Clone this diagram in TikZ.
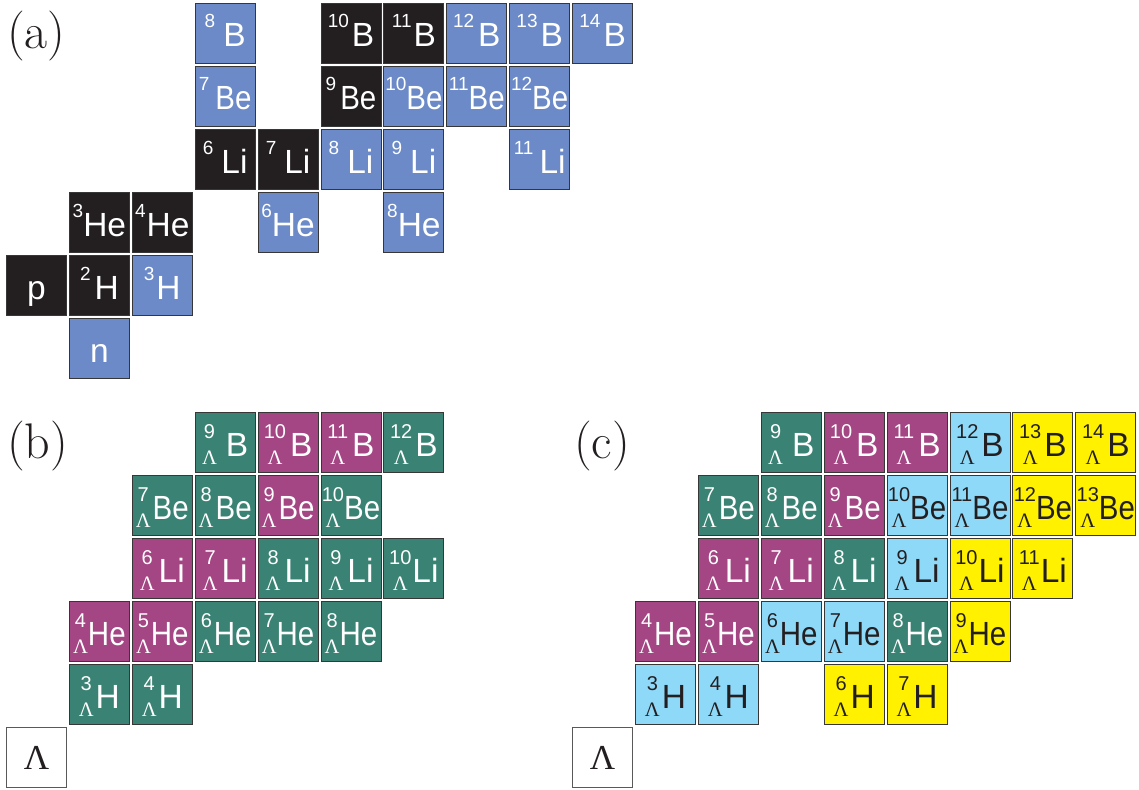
\documentclass[tikz,border=0pt]{standalone}
\usepackage{fontspec}
\usepackage{graphicx}
\newfontfamily\arial{Liberation Sans}
\newfontfamily\tms{Liberation Serif}
\definecolor{cblack}{RGB}{35,31,32}
\definecolor{cblue}{RGB}{107,138,199}
\definecolor{cgreen}{RGB}{58,131,116}
\definecolor{cmag}{RGB}{164,69,132}
\definecolor{clb}{RGB}{142,216,248}
\definecolor{cyel}{RGB}{255,241,0}
\definecolor{bord}{RGB}{55,55,55}
\newcommand\symf{\fontsize{33.5}{33.5}\selectfont}
\newcommand\supa{\fontsize{19}{19}\selectfont}
\newcommand\supb{\fontsize{20}{20}\selectfont}
\newcommand\lamf{\fontsize{20.5}{20.5}\selectfont}
\newcommand\nx[1]{\scalebox{0.88}[1]{#1}}
\newcommand\iso[3]{\raisebox{19pt}{\supa #1}\kern#3pt{\symf #2}}
\newlength\pwa \newlength\pwb
\newcommand\hyp[3]{%
  \settowidth\pwa{\supb #1}\settowidth\pwb{\lamf\tms Λ}%
  \ifdim\pwa<\pwb \setlength\pwa{\pwb}\fi
  \makebox[\pwa][c]{\raisebox{18pt}{\supb #1}}\kern-\pwa
  \makebox[\pwa][c]{\raisebox{-8pt}{\lamf\tms Λ}}\kern#3pt{\symf #2}}
% name, col, Z, style, text
\newcommand\PA[5]{\node[#4] (a#1) at ({36.5+62.9*#2},{33.5+63*(5-#3)}) {#5};}
\newcommand\PB[5]{\node[#4] (b#1) at ({36.5+62.9*#2},{442.5+63*(5-#3)}) {#5};}
\newcommand\PC[5]{\node[#4] (c#1) at ({36.5+62.9*(#2+9)},{442.5+63*(5-#3)}) {#5};}
\begin{document}
\begin{tikzpicture}[x=1pt,y=-1pt,
  base/.style={draw=bord, line width=0.9pt, minimum width=60pt, minimum height=60pt,
    inner sep=0pt, text height=43.5pt, text depth=16.5pt, font=\arial},
  blk/.style={base, fill=cblack, text=white},
  blu/.style={base, fill=cblue, text=white},
  grn/.style={base, fill=cgreen, text=white},
  mag/.style={base, fill=cmag, text=white},
  lbl/.style={base, fill=clb, text=cblack},
  yel/.style={base, fill=cyel, text=cblack},
  lbox/.style={draw=gray!70!black, line width=1pt, fill=white, minimum width=60pt,
    minimum height=60pt, inner sep=0pt, text=cblack, font=\tms\fontsize{35}{35}\selectfont},
  plab/.style={anchor=base west, inner sep=0pt, text=cblack, font=\fontsize{50}{50}\selectfont}]
\useasboundingbox (0,0) rectangle (1139,789);
% panel labels
\node[plab] (la) at (7,49) {(a)};
\node[plab] (lb) at (7,458) {(b)};
\node[plab] (lc) at (574,458) {(c)};
% ---------- (a)
\PA{p}{0}{1}{blk}{\symf p}
\PA{n}{1}{0}{blu}{\symf n}
\PA{2H}{1}{1}{blk}{\iso{2}{H}{4}}
\PA{3H}{2}{1}{blu}{\iso{3}{H}{2}}
\PA{3He}{1}{2}{blk}{\iso{3}{He}{0}}
\PA{4He}{2}{2}{blk}{\iso{4}{He}{1}}
\PA{6He}{4}{2}{blu}{\iso{6}{He}{0}}
\PA{8He}{6}{2}{blu}{\iso{8}{He}{0}}
\PA{6Li}{3}{3}{blk}{\iso{6}{Li}{8}}
\PA{7Li}{4}{3}{blk}{\iso{7}{Li}{8}}
\PA{8Li}{5}{3}{blu}{\iso{8}{Li}{8}}
\PA{9Li}{6}{3}{blu}{\iso{9}{Li}{8}}
\PA{11Li}{8}{3}{blu}{\iso{11}{Li}{6}}
\PA{7Be}{3}{4}{blu}{\iso{7}{\nx{Be}}{6}}
\PA{9Be}{5}{4}{blk}{\iso{9}{\nx{Be}}{4}}
\PA{10Be}{6}{4}{blu}{\iso{10}{\nx{Be}}{0}}
\PA{11Be}{7}{4}{blu}{\iso{11}{\nx{Be}}{0}}
\PA{12Be}{8}{4}{blu}{\iso{12}{\nx{Be}}{0}}
\PA{8B}{3}{5}{blu}{\iso{8}{B}{8}}
\PA{10B}{5}{5}{blk}{\iso{10}{B}{3}}
\PA{11B}{6}{5}{blk}{\iso{11}{B}{2}}
\PA{12B}{7}{5}{blu}{\iso{12}{B}{4}}
\PA{13B}{8}{5}{blu}{\iso{13}{B}{3}}
\PA{14B}{9}{5}{blu}{\iso{14}{B}{3}}
% ---------- (b)
\PB{L}{0}{0}{lbox}{Λ}
\PB{3H}{1}{1}{grn}{\hyp{3}{H}{2}}
\PB{4H}{2}{1}{grn}{\hyp{4}{H}{2}}
\PB{4He}{1}{2}{mag}{\hyp{4}{\nx{He}}{0}}
\PB{5He}{2}{2}{mag}{\hyp{5}{\nx{He}}{0}}
\PB{6He}{3}{2}{grn}{\hyp{6}{\nx{He}}{0}}
\PB{7He}{4}{2}{grn}{\hyp{7}{\nx{He}}{0}}
\PB{8He}{5}{2}{grn}{\hyp{8}{\nx{He}}{0}}
\PB{6Li}{2}{3}{mag}{\hyp{6}{Li}{4}}
\PB{7Li}{3}{3}{mag}{\hyp{7}{Li}{4}}
\PB{8Li}{4}{3}{grn}{\hyp{8}{Li}{4}}
\PB{9Li}{5}{3}{grn}{\hyp{9}{Li}{4}}
\PB{10Li}{6}{3}{grn}{\hyp{10}{Li}{1}}
\PB{7Be}{2}{4}{grn}{\hyp{7}{\nx{Be}}{2}}
\PB{8Be}{3}{4}{grn}{\hyp{8}{\nx{Be}}{2}}
\PB{9Be}{4}{4}{mag}{\hyp{9}{\nx{Be}}{2}}
\PB{10Be}{5}{4}{grn}{\hyp{10}{\nx{Be}}{0}}
\PB{9B}{3}{5}{grn}{\hyp{9}{B}{9}}
\PB{10B}{4}{5}{mag}{\hyp{10}{B}{4}}
\PB{11B}{5}{5}{mag}{\hyp{11}{B}{4}}
\PB{12B}{6}{5}{grn}{\hyp{12}{B}{3}}
% ---------- (c)
\PC{L}{0}{0}{lbox}{Λ}
\PC{3H}{1}{1}{lbl}{\hyp{3}{H}{2}}
\PC{4H}{2}{1}{lbl}{\hyp{4}{H}{2}}
\PC{6H}{4}{1}{yel}{\hyp{6}{H}{2}}
\PC{7H}{5}{1}{yel}{\hyp{7}{H}{2}}
\PC{4He}{1}{2}{mag}{\hyp{4}{\nx{He}}{0}}
\PC{5He}{2}{2}{mag}{\hyp{5}{\nx{He}}{0}}
\PC{6He}{3}{2}{lbl}{\hyp{6}{\nx{He}}{0}}
\PC{7He}{4}{2}{lbl}{\hyp{7}{\nx{He}}{0}}
\PC{8He}{5}{2}{grn}{\hyp{8}{\nx{He}}{0}}
\PC{9He}{6}{2}{yel}{\hyp{9}{\nx{He}}{0}}
\PC{6Li}{2}{3}{mag}{\hyp{6}{Li}{4}}
\PC{7Li}{3}{3}{mag}{\hyp{7}{Li}{4}}
\PC{8Li}{4}{3}{grn}{\hyp{8}{Li}{4}}
\PC{9Li}{5}{3}{lbl}{\hyp{9}{Li}{4}}
\PC{10Li}{6}{3}{yel}{\hyp{10}{Li}{1}}
\PC{11Li}{7}{3}{yel}{\hyp{11}{Li}{1}}
\PC{7Be}{2}{4}{grn}{\hyp{7}{\nx{Be}}{2}}
\PC{8Be}{3}{4}{grn}{\hyp{8}{\nx{Be}}{2}}
\PC{9Be}{4}{4}{mag}{\hyp{9}{\nx{Be}}{2}}
\PC{10Be}{5}{4}{lbl}{\hyp{10}{\nx{Be}}{0}}
\PC{11Be}{6}{4}{lbl}{\hyp{11}{\nx{Be}}{0}}
\PC{12Be}{7}{4}{yel}{\hyp{12}{\nx{Be}}{0}}
\PC{13Be}{8}{4}{yel}{\hyp{13}{\nx{Be}}{0}}
\PC{9B}{3}{5}{grn}{\hyp{9}{B}{9}}
\PC{10B}{4}{5}{mag}{\hyp{10}{B}{4}}
\PC{11B}{5}{5}{mag}{\hyp{11}{B}{4}}
\PC{12B}{6}{5}{lbl}{\hyp{12}{B}{3}}
\PC{13B}{7}{5}{yel}{\hyp{13}{B}{3}}
\PC{14B}{8}{5}{yel}{\hyp{14}{B}{3}}
\end{tikzpicture}
\end{document}
